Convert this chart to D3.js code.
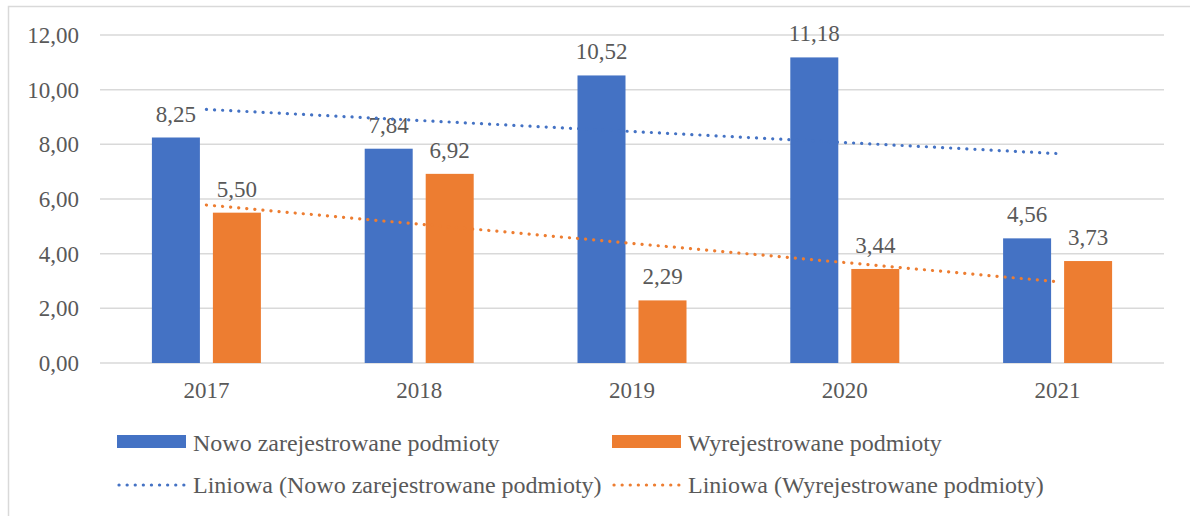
<!DOCTYPE html>
<html>
<head>
<meta charset="utf-8">
<script src="https://cdn.jsdelivr.net/npm/d3@7"></script>
<style>
  html, body { margin: 0; padding: 0; background: #fff; }
</style>
</head>
<body>
<div id="chart"></div>
<script>
const years = ["2017", "2018", "2019", "2020", "2021"];
const nowe = [8.25, 7.84, 10.52, 11.18, 4.56];
const wyrej = [5.50, 6.92, 2.29, 3.44, 3.73];
const yTicks = [0, 2, 4, 6, 8, 10, 12];
const seriesNames = ["Nowo zarejestrowane podmioty", "Wyrejestrowane podmioty"];
const trendNames = ["Liniowa (Nowo zarejestrowane podmioty)", "Liniowa (Wyrejestrowane podmioty)"];
const colors = ["#4472c4", "#ed7d31"];

const width = 1190, height = 516;
const fmt = v => v.toFixed(2).replace(".", ",");

const svg = d3.select("#chart").append("svg")
  .attr("width", width).attr("height", height)
  .attr("font-family", "'Liberation Serif'")
  .attr("fill", "#595959");

svg.append("rect").attr("width", width).attr("height", height).attr("fill", "#fff");

// chart border (cut by the picture edges)
svg.append("path")
  .attr("d", "M8.5," + (height + 2) + "V6.5H" + (width + 2))
  .attr("fill", "none").attr("stroke", "#d9d9d9").attr("stroke-width", 1.5);

const x = d3.scaleBand().domain(years).range([100, 1164]);
const y = d3.scaleLinear().domain([0, 12]).range([363, 35]);

// gridlines
svg.append("g").selectAll("line").data(yTicks).join("line")
  .attr("x1", 100).attr("x2", 1164)
  .attr("y1", d => y(d)).attr("y2", d => y(d))
  .attr("stroke", "#d9d9d9").attr("stroke-width", 1.5);

// y tick labels
svg.append("g").selectAll("text").data(yTicks).join("text")
  .attr("x", 79).attr("y", d => y(d) + 8)
  .attr("text-anchor", "end").attr("font-size", 23)
  .text(fmt);

// x labels
svg.append("g").selectAll("text").data(years).join("text")
  .attr("x", d => x(d) + x.bandwidth() / 2).attr("y", 398)
  .attr("text-anchor", "middle").attr("font-size", 23)
  .text(d => d);

const barW = 48, gap = 13;
const series = [nowe, wyrej];

series.forEach((vals, s) => {
  const off = s === 0 ? -(gap / 2 + barW) : gap / 2;
  const g = svg.append("g");
  g.selectAll("rect").data(vals).join("rect")
    .attr("x", (d, i) => x(years[i]) + x.bandwidth() / 2 + off)
    .attr("y", d => y(d))
    .attr("width", barW)
    .attr("height", d => y(0) - y(d))
    .attr("fill", colors[s]);
  g.selectAll("text").data(vals).join("text")
    .attr("x", (d, i) => x(years[i]) + x.bandwidth() / 2 + off + barW / 2)
    .attr("y", d => y(d) - 16)
    .attr("text-anchor", "middle").attr("font-size", 23)
    .text(fmt);
});

// linear trend lines (least squares, like Excel)
series.forEach((vals, s) => {
  const xs = vals.map((d, i) => i + 1);
  const mx = d3.mean(xs), my = d3.mean(vals);
  const slope = d3.sum(xs, (xi, i) => (xi - mx) * (vals[i] - my)) / d3.sum(xs, xi => (xi - mx) ** 2);
  const b = my - slope * mx;
  const pts = [1, 5].map(k => [x(years[k - 1]) + x.bandwidth() / 2, y(b + slope * k)]);
  svg.append("path")
    .attr("d", d3.line()(pts))
    .attr("fill", "none").attr("stroke", colors[s])
    .attr("stroke-width", 3.2).attr("stroke-linecap", "round")
    .attr("stroke-dasharray", "0.1 8");
});

// legend
const legX = [117, 612];
seriesNames.forEach((name, s) => {
  svg.append("rect").attr("x", legX[s]).attr("y", 435)
    .attr("width", 69).attr("height", 13).attr("fill", colors[s]);
  svg.append("text").attr("x", legX[s] + 76).attr("y", 451)
    .attr("font-size", 24).text(name);
});
trendNames.forEach((name, s) => {
  svg.append("line").attr("x1", legX[s] + 2).attr("x2", legX[s] + 67)
    .attr("y1", 485).attr("y2", 485)
    .attr("stroke", colors[s]).attr("stroke-width", 3.2)
    .attr("stroke-linecap", "round").attr("stroke-dasharray", "0.1 8");
  svg.append("text").attr("x", legX[s] + 76).attr("y", 493)
    .attr("font-size", 24).text(name);
});
</script>
</body>
</html>
